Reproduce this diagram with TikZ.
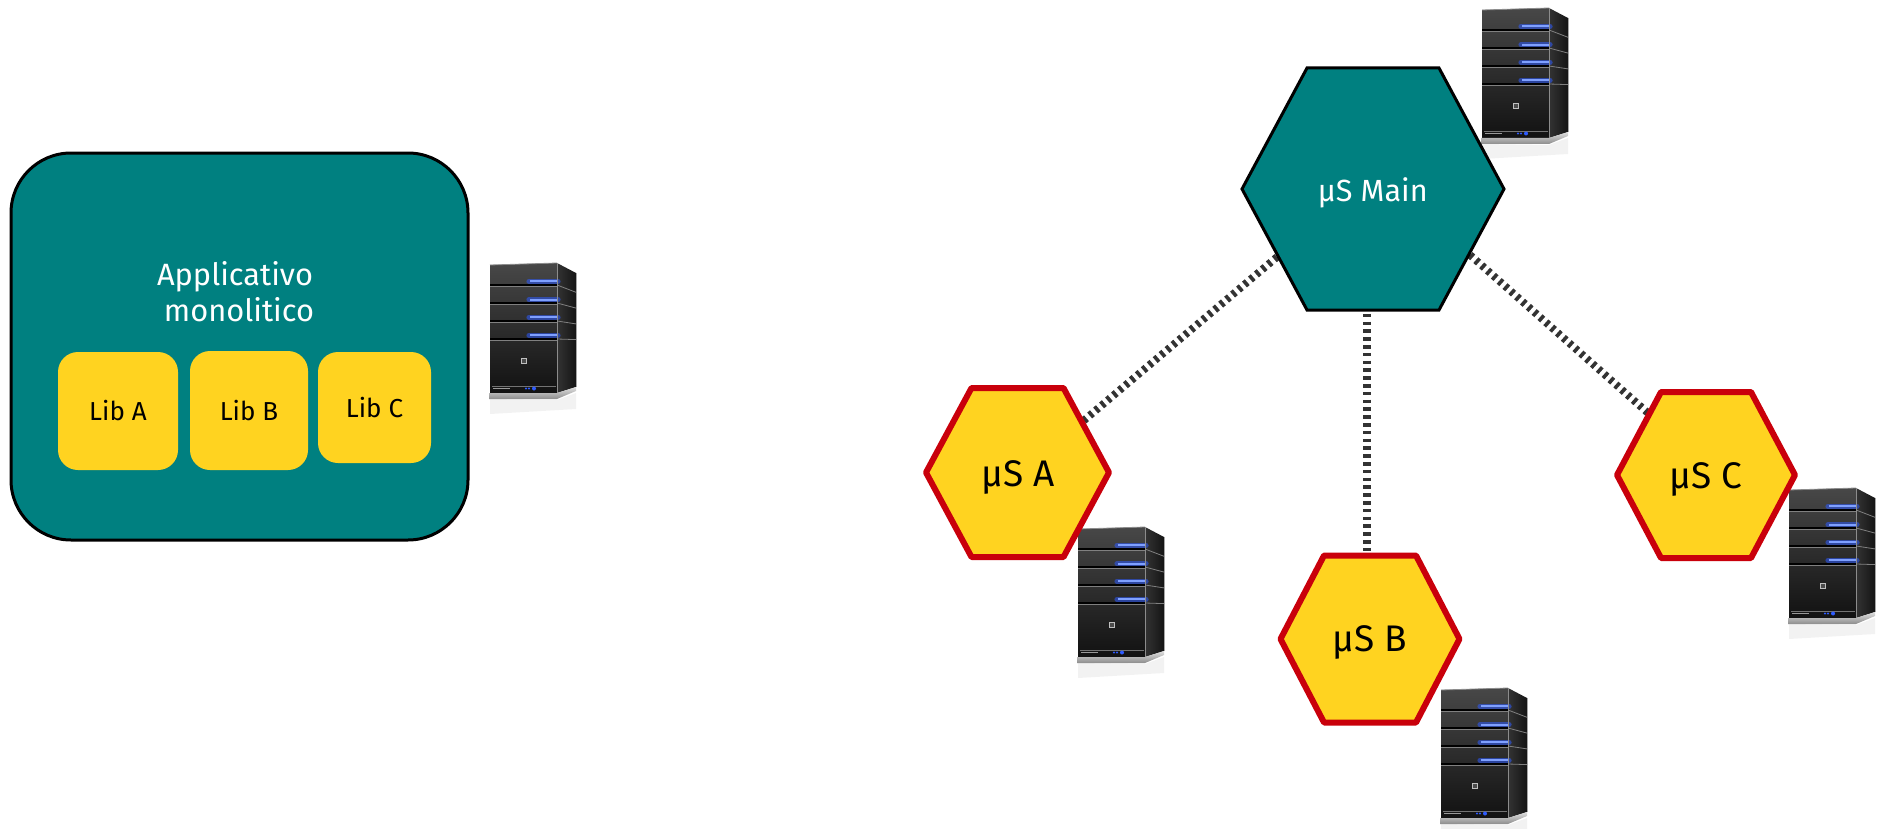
\documentclass[tikz,border=0pt]{standalone}
\usepackage{fontspec}
\setmainfont{Fira Sans}
\usetikzlibrary{calc}

\definecolor{appteal}{HTML}{008080}
\definecolor{libyellow}{HTML}{FFD320}
\definecolor{hexred}{HTML}{C9000B}
\definecolor{linkgray}{HTML}{333333}
\definecolor{ledblue}{HTML}{2E5BFF}
\definecolor{ledcore}{HTML}{7FA0FF}

% hexagon with left/right points: centre, half width, half top edge, half height, style
\newcommand\hexpath[5]{%
  \draw[#5] ($(#1)+(-#2,0)$) -- ($(#1)+(-#3,-#4)$) -- ($(#1)+(#3,-#4)$) --
            ($(#1)+(#2,0)$) -- ($(#1)+(#3,#4)$) -- ($(#1)+(-#3,#4)$) -- cycle;}

\tikzset{
  monobox/.style={draw=black, line width=1.5pt, fill=appteal, rounded corners=30pt,
    minimum width=228.5pt, minimum height=193.5pt, inner sep=0pt},
  apptitle/.style={text=white, inner sep=0pt, font=\fontsize{15.4pt}{18pt}\selectfont},
  libbox/.style={fill=libyellow, rounded corners=10pt, inner sep=0pt,
    font=\fontsize{13pt}{15pt}\selectfont},
  mainhex/.style={draw=black, line width=1.5pt, fill=appteal},
  svchex/.style={draw=hexred, line width=3pt, line join=round, fill=libyellow},
  mainlabel/.style={text=white, inner sep=0pt, font=\fontsize{15.3pt}{18pt}\selectfont},
  svclabel/.style={text=black, inner sep=0pt, font=\fontsize{18.5pt}{21pt}\selectfont},
  link/.style={draw=linkgray, line width=3.8pt, dash pattern=on 1.8pt off 2.1pt},
  server/.pic={
    % soft reflection on the floor
    \fill[black!5] (0,136) -- (67,137) -- (86,130) -- (86,146) -- (0,151) -- cycle;
    % side panel
    \shade[left color=black!80, right color=black!92] (67,0) -- (86,10) -- (86,124) -- (67,130) -- cycle;
    \foreach \ya/\yb in {22/29.3, 40/45.1, 58/60.9, 76/76.6}
      \draw[black!50, line width=0.4pt] (67,\ya) -- (86,\yb);
    % front panel
    \shade[top color=black!72, bottom color=black!93] (0,2) -- (67,0) -- (67,130) -- (0,130) -- cycle;
    \draw[black!45, line width=0.4pt] (0,2) -- (67,0);
    \foreach \y in {20,38,56,74} {
      \draw[black, line width=0.9pt] (0,\y+2) -- (67,\y+2);
      \draw[black!50, line width=0.3pt] (0,\y+3.3) -- (67,\y+3.3);
    }
    % blue status lights
    \foreach \y in {18.3,36.7,54.3,72.3} {
      \draw[ledblue, opacity=0.55, line width=2.6pt, line cap=round] (39,\y) -- (68,\y);
      \draw[ledcore, line width=0.9pt] (40,\y) -- (68,\y);
    }
    % badge
    \draw[black!25, line width=0.4pt, fill=black!70] (31,95) rectangle (36,100);
    % control strip
    \draw[black!55, line width=0.5pt] (2,123.5) -- (66,123.5);
    \draw[black!40, line width=0.6pt] (3,125.5) -- (20,125.5);
    \fill[ledblue] (36,125.5) circle (0.6pt) (39,125.5) circle (0.6pt) (44,125.5) circle (1pt);
    % case edges
    \draw[black!45, line width=0.5pt] (67,0) -- (67,130);
    \draw[black!35, line width=0.3pt] (86,10) -- (86,124);
    % silver foot
    \shade[top color=black!12, bottom color=black!45]
      (-1,130) -- (67,130) -- (86,124) -- (86,128) -- (67,136) -- (-1,136) -- cycle;
  }
}

\begin{document}
\begin{tikzpicture}[x=0.5pt, y=-0.5pt]
\useasboundingbox (0,0) rectangle (1884,829);

% ---------- monolithic application ----------
\node[monobox] (mono) at (239.5,346.5) {};
\node[apptitle, anchor=base] (monoTitleA) at (235,285.7) {Applicativo};
\node[apptitle, anchor=base] (monoTitleB) at (239,321.7) {monolitico};
\node[libbox, minimum width=60pt, minimum height=59pt] (libA) at (118,411) {Lib A};
\node[libbox, minimum width=59pt, minimum height=59.5pt] (libB) at (249,410.5) {Lib B};
\node[libbox, minimum width=56.5pt, minimum height=55.5pt] (libC) at (374.5,407.5) {Lib C};

% ---------- servers ----------
\pic (srvMono) at (490,263) {server};
\pic (srvMain) at (1482,8) {server};
\pic (srvA) at (1078,527) {server};
\pic (srvB) at (1441,688) {server};
\pic (srvC) at (1789,488) {server};

% ---------- microservices ----------
\coordinate (hexMain) at (1373,189);
\coordinate (hexA) at (1017.5,472.5);
\coordinate (hexB) at (1370,639);
\coordinate (hexC) at (1706,475);

\coordinate (mainToA) at (1277,257);
\coordinate (aFromMain) at (1082,422);
\coordinate (mainToB) at (1367,306);
\coordinate (bFromMain) at (1367,560);
\coordinate (mainToC) at (1470,255);
\coordinate (cFromMain) at (1648,413);

\draw[link] (mainToA) -- (aFromMain);
\draw[link] (mainToB) -- (bFromMain);
\draw[link] (mainToC) -- (cFromMain);

\hexpath{hexMain}{131}{66}{121}{mainhex}
\hexpath{hexA}{91.5}{46}{84.5}{svchex}
\hexpath{hexB}{89.5}{46}{83.5}{svchex}
\hexpath{hexC}{89}{45}{83}{svchex}

\node[mainlabel, anchor=base] (lblMain) at (1372.8,201.7) {µS Main};
\node[svclabel, anchor=base] (lblA) at (1018.3,486.7) {µS A};
\node[svclabel, anchor=base] (lblB) at (1369.7,651.7) {µS B};
\node[svclabel, anchor=base] (lblC) at (1705.8,488.3) {µS C};
\end{tikzpicture}
\end{document}
